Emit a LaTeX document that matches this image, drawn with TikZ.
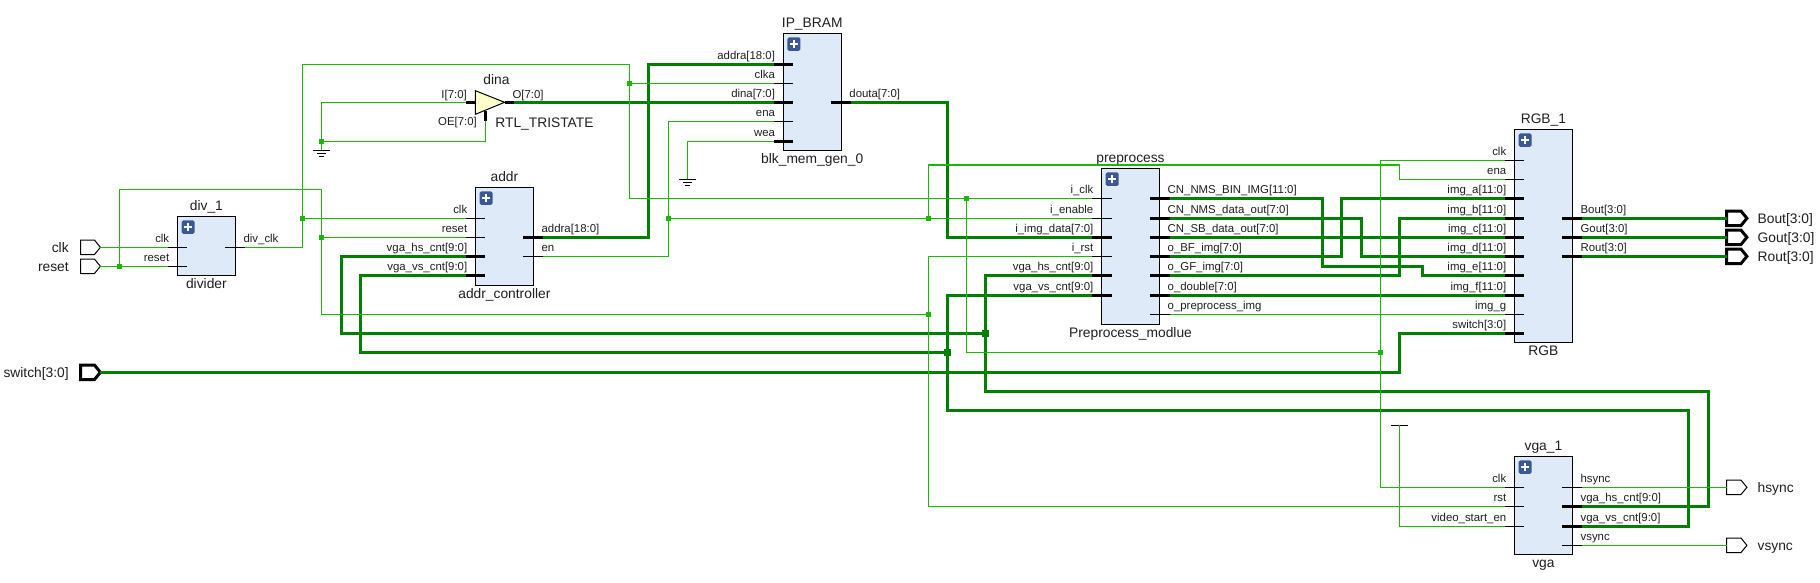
\documentclass[tikz,border=0pt]{standalone}
\usepackage{fontspec}
\setmainfont{Liberation Sans}
\definecolor{wirethin}{RGB}{26,184,0}
\definecolor{wirebus}{RGB}{0,128,0}
\definecolor{blkfill}{RGB}{222,234,248}
\definecolor{plusblue}{RGB}{58,88,148}
\definecolor{trifill}{RGB}{255,255,204}
\tikzset{
  thin wire/.style={draw=wirethin,line width=1.1pt},
  bus wire/.style={draw=wirebus,line width=3pt,line join=miter},
  pinthin/.style={draw=black,line width=1pt},
  pinbus/.style={draw=black,line width=3pt},
  blk/.style={draw=black,fill=blkfill,line width=1pt,inner sep=0pt,outer sep=0pt,minimum width=58pt},
  pinlab/.style={font=\fontsize{11.4}{12}\selectfont,inner sep=0pt,text=black!88},
  inst/.style={font=\fontsize{13.8}{14}\selectfont,inner sep=0pt,anchor=base,text=black!88},
  portlab/.style={font=\fontsize{13.8}{14}\selectfont,inner sep=0pt,text=black!88},
  jthin/.style={fill=wirethin,draw=none,minimum size=4.8pt,inner sep=0pt,outer sep=0pt,rectangle},
  jbus/.style={fill=wirebus,draw=none,minimum size=6.8pt,inner sep=0pt,outer sep=0pt,rectangle},
  gndline/.style={draw=black,line width=1pt},
}
% block: id, left x, top y, bottom y, top label, bottom label
\newcommand\blkbox[6]{%
  \node[blk,minimum height={#4-#3}] (#1) at ({#2+29},{(#3+#4)/2}) {};
  \node[inst] (#1-top) at ([yshift=6.3pt]#1.north) {#5};
  \node[inst] (#1-bot) at ([yshift=-13.4pt]#1.south) {#6};
  \fill[plusblue,rounded corners=1.6pt] (#2+4.2,#3+4) rectangle (#2+17.2,#3+17.6);
  \draw[white,line width=1.6pt] (#2+6.9,#3+10.8) -- (#2+14.5,#3+10.8) (#2+10.7,#3+6.9) -- (#2+10.7,#3+14.7);
}
% left pin: id, box left x, y, label, style
\newcommand\pinl[5]{%
  \coordinate (#1) at (#2-9.5,#3);
  \draw[#5] (#1) -- (#2+10,#3);
  \node[pinlab,anchor=base east] (#1-l) at (#2-8,#3-4.6) {#4};
}
% right pin: id, box right x, y, label, style
\newcommand\pinr[5]{%
  \coordinate (#1) at (#2+10,#3);
  \draw[#5] (#1) -- (#2-10,#3);
  \node[pinlab,anchor=base west] (#1-l) at (#2+8,#3-4.6) {#4};
}
% input port: id, y, label, line width
\newcommand\inport[4]{%
  \draw[black,line width=#4,line join=miter,fill=white] (80.5,#2-7.2) -- (94.5,#2-7.2) -- (100.4,#2) -- (94.5,#2+7.2) -- (80.5,#2+7.2) -- cycle;
  \coordinate (#1) at (100.4,#2);
  \node[portlab,anchor=base east] (#1-l) at (68.9,#2+5) {#3};
}
% output port: id, y, label, line width
\newcommand\outport[4]{%
  \draw[black,line width=#4,line join=miter,fill=white] (1726.6,#2-7.2) -- (1741,#2-7.2) -- (1746.9,#2) -- (1741,#2+7.2) -- (1726.6,#2+7.2) -- cycle;
  \coordinate (#1) at (1726.6,#2);
  \node[portlab,anchor=base west] (#1-l) at (1757.4,#2+5) {#3};
}
% ground: id, x, y of the first bar
\newcommand\gnd[3]{%
  \coordinate (#1) at (#2,#3);
  \draw[gndline] (#2-8.5,#3) -- (#2+8.5,#3) (#2-4.5,#3+3.4) -- (#2+4.5,#3+3.4) (#2-2.2,#3+6.4) -- (#2+2.2,#3+6.4);
}
\begin{document}
\begin{tikzpicture}[x=1pt,y=-1pt]
\useasboundingbox (0,0) rectangle (1820,582);
\fill[white] (0,0) rectangle (1820,582);

%% ports
\inport{p-clk}{247.3}{clk}{1pt}
\inport{p-reset}{266.3}{reset}{1pt}
\inport{p-switch}{372.3}{switch[3:0]}{3pt}
\outport{p-bout}{218.3}{Bout[3:0]}{3pt}
\outport{p-gout}{237.3}{Gout[3:0]}{3pt}
\outport{p-rout}{256.3}{Rout[3:0]}{3pt}
\outport{p-hsync}{487.3}{hsync}{1pt}
\outport{p-vsync}{545.3}{vsync}{1pt}

%% blocks
\blkbox{div}{177.4}{216.3}{275.3}{div\_1}{divider}
\pinl{div-clk}{177.4}{247.3}{clk}{pinthin}
\pinl{div-reset}{177.4}{266.3}{reset}{pinthin}
\pinr{div-divclk}{235.4}{247.3}{div\_clk}{pinthin}

\blkbox{addr}{475.4}{187.3}{285.3}{addr}{addr\_controller}
\pinl{addr-clk}{475.4}{218.3}{clk}{pinthin}
\pinl{addr-reset}{475.4}{237.3}{reset}{pinthin}
\pinl{addr-hs}{475.4}{256.3}{vga\_hs\_cnt[9:0]}{pinbus}
\pinl{addr-vs}{475.4}{275.3}{vga\_vs\_cnt[9:0]}{pinbus}
\pinr{addr-addra}{533.4}{237.3}{addra[18:0]}{pinbus}
\pinr{addr-en}{533.4}{256.3}{en}{pinthin}

\blkbox{bram}{783.2}{33.3}{150.3}{IP\_BRAM}{blk\_mem\_gen\_0}
\pinl{bram-addra}{783.2}{64.3}{addra[18:0]}{pinbus}
\pinl{bram-clka}{783.2}{83.3}{clka}{pinthin}
\pinl{bram-dina}{783.2}{102.3}{dina[7:0]}{pinbus}
\pinl{bram-ena}{783.2}{121.3}{ena}{pinthin}
\pinl{bram-wea}{783.2}{141.3}{wea}{pinbus}
\pinr{bram-douta}{841.2}{102.3}{douta[7:0]}{pinbus}

\blkbox{pre}{1101.5}{168.3}{324.3}{preprocess}{Preprocess\_modlue}
\pinl{pre-clk}{1101.5}{198.3}{i\_clk}{pinthin}
\pinl{pre-en}{1101.5}{218.3}{i\_enable}{pinthin}
\pinl{pre-data}{1101.5}{237.3}{i\_img\_data[7:0]}{pinbus}
\pinl{pre-rst}{1101.5}{256.3}{i\_rst}{pinthin}
\pinl{pre-hs}{1101.5}{275.3}{vga\_hs\_cnt[9:0]}{pinbus}
\pinl{pre-vs}{1101.5}{295.3}{vga\_vs\_cnt[9:0]}{pinbus}
\pinr{pre-nmsbin}{1159.5}{198.3}{CN\_NMS\_BIN\_IMG[11:0]}{pinbus}
\pinr{pre-nmsdata}{1159.5}{218.3}{CN\_NMS\_data\_out[7:0]}{pinbus}
\pinr{pre-sb}{1159.5}{237.3}{CN\_SB\_data\_out[7:0]}{pinbus}
\pinr{pre-bf}{1159.5}{256.3}{o\_BF\_img[7:0]}{pinbus}
\pinr{pre-gf}{1159.5}{275.3}{o\_GF\_img[7:0]}{pinbus}
\pinr{pre-double}{1159.5}{295.3}{o\_double[7:0]}{pinbus}
\pinr{pre-out}{1159.5}{314.3}{o\_preprocess\_img}{pinthin}

\blkbox{rgb}{1514.4}{129.3}{342.3}{RGB\_1}{RGB}
\pinl{rgb-clk}{1514.4}{160.3}{clk}{pinthin}
\pinl{rgb-ena}{1514.4}{179.3}{ena}{pinthin}
\pinl{rgb-a}{1514.4}{198.3}{img\_a[11:0]}{pinbus}
\pinl{rgb-b}{1514.4}{218.3}{img\_b[11:0]}{pinbus}
\pinl{rgb-c}{1514.4}{237.3}{img\_c[11:0]}{pinbus}
\pinl{rgb-d}{1514.4}{256.3}{img\_d[11:0]}{pinbus}
\pinl{rgb-e}{1514.4}{275.3}{img\_e[11:0]}{pinbus}
\pinl{rgb-f}{1514.4}{295.3}{img\_f[11:0]}{pinbus}
\pinl{rgb-g}{1514.4}{314.3}{img\_g}{pinthin}
\pinl{rgb-sw}{1514.4}{333.3}{switch[3:0]}{pinbus}
\pinr{rgb-bout}{1572.4}{218.3}{Bout[3:0]}{pinbus}
\pinr{rgb-gout}{1572.4}{237.3}{Gout[3:0]}{pinbus}
\pinr{rgb-rout}{1572.4}{256.3}{Rout[3:0]}{pinbus}

\blkbox{vga}{1514.4}{456.3}{554.3}{vga\_1}{vga}
\pinl{vga-clk}{1514.4}{487.3}{clk}{pinthin}
\pinl{vga-rst}{1514.4}{506.3}{rst}{pinthin}
\pinl{vga-start}{1514.4}{526.3}{video\_start\_en}{pinthin}
\pinr{vga-hsync}{1572.4}{487.3}{hsync}{pinthin}
\pinr{vga-hs}{1572.4}{506.3}{vga\_hs\_cnt[9:0]}{pinbus}
\pinr{vga-vs}{1572.4}{526.3}{vga\_vs\_cnt[9:0]}{pinbus}
\pinr{vga-vsync}{1572.4}{545.3}{vsync}{pinthin}

%% tristate buffer
\draw[pinbus] (466,102.3) -- (475.4,102.3);
\draw[pinbus] (504.6,102.3) -- (514,102.3);
\draw[pinbus] (485.5,111) -- (485.5,120.7);
\draw[black,line width=1pt,fill=trifill] (475.4,90.7) -- (504.6,102.3) -- (475.4,114.3) -- cycle;
\coordinate (tri-i) at (466,102.3);
\coordinate (tri-o) at (514,102.3);
\coordinate (tri-oe) at (485.5,120.7);
\node[inst] (tri-name) at (496.4,84.5) {dina};
\node[portlab,anchor=base west] (tri-type) at (495.2,127.3) {RTL\_TRISTATE};
\node[pinlab,anchor=base east] (tri-il) at (467,98.7) {I[7:0]};
\node[pinlab,anchor=base west] (tri-ol) at (512.4,98.7) {O[7:0]};
\node[pinlab,anchor=base east] (tri-oel) at (477,125.3) {OE[7:0]};

%% ground and tie-off symbols
\gnd{gnd-a}{321.5}{150.3}
\gnd{gnd-b}{687.5}{179}
\coordinate (tie) at (1399.5,425.3);
\draw[gndline] (1391.3,425.3) -- (1407.6,425.3);

%% junction positions
\coordinate (jc-reset) at (119.4,266.3);
\coordinate (jc-clka) at (302.3,218.3);
\coordinate (jc-rst) at (321.5,237.3);
\coordinate (jc-gnd) at (321.5,141.3);
\coordinate (jc-bram) at (629.6,83.3);
\coordinate (jc-en) at (668.5,218.3);
\coordinate (jc-en2) at (928.4,218.3);
\coordinate (jc-rst2) at (928.4,314.3);
\coordinate (jc-clk2) at (966.5,198.3);
\coordinate (jc-clk3) at (1380.4,352.3);
\coordinate (jc-hs) at (985.5,333.3);
\coordinate (jc-vs) at (947.4,352.3);

%% bend coordinates
\coordinate (b-resettop) at (119.4,189.3);
\coordinate (b-clktopl) at (302.3,64.3);
\coordinate (b-clktopr) at (629.6,64.3);
\coordinate (b-en) at (668.5,256.3);
\coordinate (b-ena) at (928.4,165);
\coordinate (b-ena2) at (1399.5,165);
\coordinate (b-rstlow) at (928.4,506.3);
\coordinate (b-rstmid) at (321.5,314.3);
\coordinate (b-bramaddr) at (648.6,64.3);
\coordinate (b-douta) at (947.4,102.3);
\coordinate (b-hslow) at (985.5,391.3);
\coordinate (b-hsr) at (1708,391.3);
\coordinate (b-vslow) at (947.4,410.3);
\coordinate (b-vsr) at (1688.5,410.3);
\coordinate (b-addrhs) at (341.6,333.3);
\coordinate (b-addrvs) at (360.6,352.3);
\coordinate (b-prehs) at (985.5,275.3);
\coordinate (b-nms1) at (1322,266);
\coordinate (b-nms2) at (1422.4,266);
\coordinate (b-nmsd) at (1361.3,218.3);
\coordinate (b-bf) at (1341.5,256.3);
\coordinate (b-gf) at (1399.5,275.3);
\coordinate (b-sw) at (1399.5,372.3);
\coordinate (b-rgbclk) at (1380.4,160.3);
\coordinate (b-vgaclk) at (1380.4,487.3);

%% bus wires
\draw[bus wire] (tri-o) -- (bram-dina);
\draw[bus wire] (addr-addra) -| (b-bramaddr) -- (bram-addra);
\draw[bus wire] (bram-douta) -- (b-douta) |- (pre-data);
\draw[bus wire] (addr-hs) -| (b-addrhs) -- (jc-hs);
\draw[bus wire] (addr-vs) -| (b-addrvs) -- (jc-vs);
\draw[bus wire] (pre-hs) -- (b-prehs) -- (b-hslow) -- (b-hsr) |- (vga-hs);
\draw[bus wire] (pre-vs) -| (b-vslow) -- (b-vsr) |- (vga-vs);
\draw[bus wire] (pre-nmsbin) -| (b-nms1) -- (b-nms2) |- (rgb-e);
\draw[bus wire] (pre-nmsdata) -- (b-nmsd) |- (rgb-d);
\draw[bus wire] (pre-sb) -- (rgb-c);
\draw[bus wire] (pre-bf) -- (b-bf) |- (rgb-a);
\draw[bus wire] (pre-gf) -- (b-gf) |- (rgb-b);
\draw[bus wire] (pre-double) -- (rgb-f);
\draw[bus wire] (p-switch) -- (b-sw) |- (rgb-sw);
\draw[bus wire] (rgb-bout) -- (p-bout);
\draw[bus wire] (rgb-gout) -- (p-gout);
\draw[bus wire] (rgb-rout) -- (p-rout);

%% thin wires
\draw[thin wire] (p-clk) -- (div-clk);
\draw[thin wire] (p-reset) -- (div-reset);
\draw[thin wire] (jc-reset) -- (b-resettop) -| (b-rstmid) -- (jc-rst2) -- (pre-rst -| jc-rst2) -- (pre-rst);
\draw[thin wire] (jc-rst2) -- (b-rstlow) -- (vga-rst);
\draw[thin wire] (jc-rst) -- (addr-reset);
\draw[thin wire] (div-divclk) -| (b-clktopl) -- (b-clktopr) |- (pre-clk);
\draw[thin wire] (jc-clka) -- (addr-clk);
\draw[thin wire] (jc-bram) -- (bram-clka);
\draw[thin wire] (jc-clk2) |- (jc-clk3);
\draw[thin wire] (rgb-clk) -- (b-rgbclk) -- (b-vgaclk) -- (vga-clk);
\draw[thin wire] (tri-i) -| (gnd-a);
\draw[thin wire] (tri-oe) |- (jc-gnd);
\draw[thin wire] (addr-en) -- (b-en) |- (bram-ena);
\draw[thin wire] (jc-en) -- (pre-en);
\draw[thin wire] (jc-en2) -- (b-ena) -- (b-ena2) |- (rgb-ena);
\draw[thin wire] (bram-wea) -| (gnd-b);
\draw[thin wire] (pre-out) -- (rgb-g);
\draw[thin wire] (vga-start) -| (tie);
\draw[thin wire] (vga-hsync) -- (p-hsync);
\draw[thin wire] (vga-vsync) -- (p-vsync);

%% junction dots
\foreach \j in {jc-reset,jc-clka,jc-rst,jc-gnd,jc-bram,jc-en,jc-en2,jc-rst2,jc-clk2,jc-clk3}
  \node[jthin] (dot-\j) at (\j) {};
\foreach \j in {jc-hs,jc-vs}
  \node[jbus] (dot-\j) at (\j) {};
\end{tikzpicture}
\end{document}
